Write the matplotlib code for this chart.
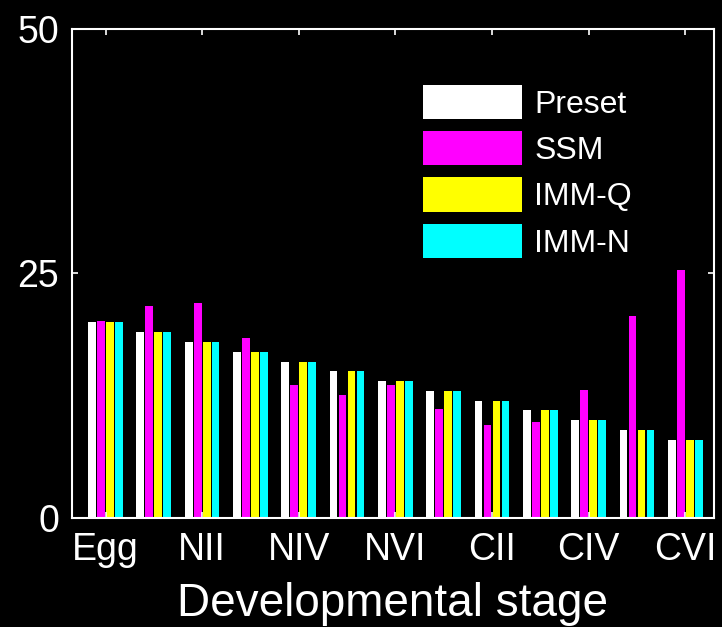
import numpy as np
import matplotlib
matplotlib.use("Agg")
import matplotlib.pyplot as plt

plt.rcParams['font.family'] = ['Liberation Sans', 'DejaVu Sans']

# Developmental stages of the copepod life cycle
stages = ['Egg', 'NI', 'NII', 'NIII', 'NIV', 'NV', 'NVI',
          'CI', 'CII', 'CIII', 'CIV', 'CV', 'CVI']
labelled = ['Egg', 'NII', 'NIV', 'NVI', 'CII', 'CIV', 'CVI']

preset = [20, 19, 18, 17, 16, 15, 14, 13, 12, 11, 10, 9, 8]
ssm = [20.1, 21.7, 22.0, 18.4, 13.6, 12.6, 13.6, 11.1, 9.5, 9.8, 13.1, 20.7, 25.4]
imm_q = [20, 19, 18, 17, 16, 15, 14, 13, 12, 11, 10, 9, 8]
imm_n = [20, 19, 18, 17, 16, 15, 14, 13, 12, 11, 10, 9, 8]

series = [preset, ssm, imm_q, imm_n]
names = ['Preset', 'SSM', 'IMM-Q', 'IMM-N']
colors = ['white', '#ff00ff', '#ffff00', '#00ffff']

fig = plt.figure(figsize=(7.22, 6.27), dpi=100, facecolor='black')
ax = fig.add_axes([0.0993, 0.1738, 0.89, 0.78], facecolor='black')

x = np.arange(1, len(stages) + 1)
step = 0.186
width = 0.16
for k, (vals, name, c) in enumerate(zip(series, names, colors)):
    ax.bar(x + (k - 1.5) * step, vals, width, color=c, label=name, linewidth=0)

ax.set_xlim(0.3, 13.6)
ax.set_ylim(0, 50)
ax.set_yticks([0, 25, 50])
ax.set_xticks([x[stages.index(s)] for s in labelled])
ax.set_xticklabels(labelled)

for sp in ax.spines.values():
    sp.set_color('white')
    sp.set_linewidth(1.5)
ax.tick_params(colors='white', direction='in', length=4, width=1.2,
               top=True, right=True, labelsize=27)
ax.tick_params(axis='x', pad=10)
ax.tick_params(axis='y', pad=9)
ax.set_xlabel('Developmental stage', color='white', fontsize=33, labelpad=10)

leg = ax.legend(loc='upper left', bbox_to_anchor=(0.546, 0.886), frameon=False,
                fontsize=23, handlelength=3.1, handleheight=1.27,
                handletextpad=0.4, labelspacing=0.36, borderpad=0, borderaxespad=0)
for t in leg.get_texts():
    t.set_color('white')

fig.savefig('out.png', dpi=100, facecolor='black')
